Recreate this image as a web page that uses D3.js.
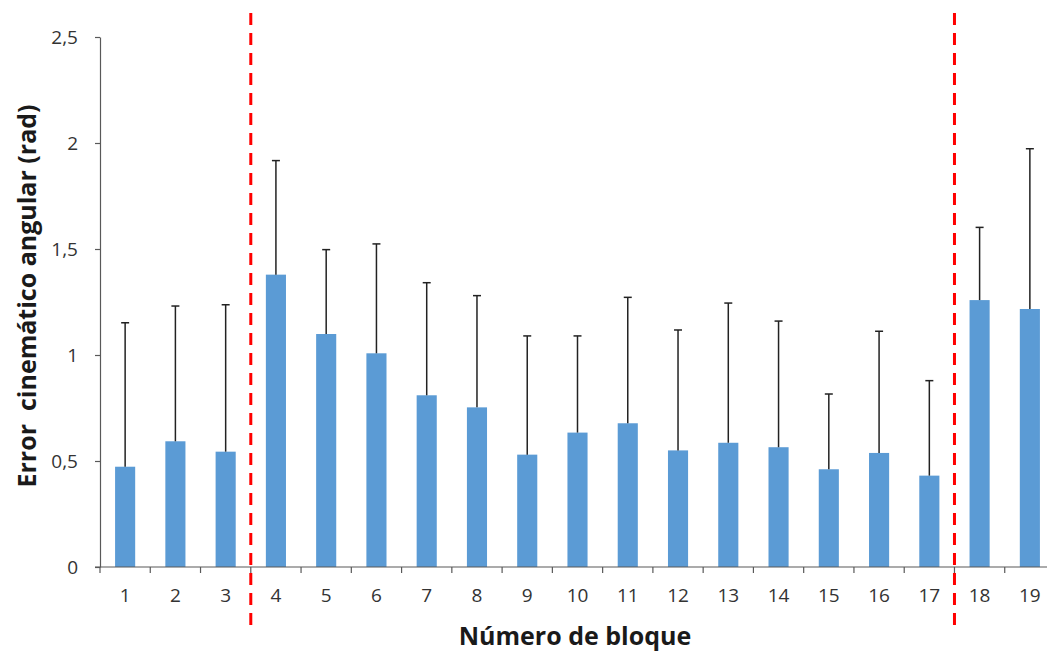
<!DOCTYPE html>
<html>
<head>
<meta charset="utf-8">
<script src="https://cdn.jsdelivr.net/npm/d3@7"></script>
<style>
  body { margin: 0; background: #fff; }
  svg { display: block; font-family: "Open Sans", "Noto Sans", sans-serif; }
</style>
</head>
<body>
<div id="chart"></div>
<script>
// bloques 1..19
const bloques = ["1","2","3","4","5","6","7","8","9","10","11","12","13","14","15","16","17","18","19"];
const medias = [0.473, 0.593, 0.544, 1.379, 1.099, 1.008, 0.810, 0.753, 0.530, 0.634, 0.678, 0.550, 0.586, 0.565, 0.461, 0.538, 0.431, 1.259, 1.217];
const topesError = [1.152, 1.231, 1.237, 1.917, 1.497, 1.524, 1.341, 1.280, 1.090, 1.090, 1.272, 1.118, 1.245, 1.160, 0.816, 1.112, 0.879, 1.602, 1.973];
const yTicks = [0, 0.5, 1, 1.5, 2, 2.5];
const separadores = ["3", "17"]; // linea roja despues de estos bloques

const W = 1047, H = 652;
const margin = { top: 37, left: 100, bottom: 85 };
const plotBottom = H - margin.bottom;

const svg = d3.select("#chart").append("svg")
  .attr("width", W)
  .attr("height", H);

const x = d3.scaleBand()
  .domain(bloques)
  .range([margin.left, 1055])
  .paddingInner(0.6)
  .paddingOuter(0.3);

const y = d3.scaleLinear()
  .domain([0, 2.5])
  .range([plotBottom, margin.top]);

const es = d3.formatLocale({ decimal: ",", thousands: ".", grouping: [3], currency: ["", ""] });
const fmt = es.format(".1~f");

const axisColor = "#595959";

// eje Y
const gy = svg.append("g")
  .attr("transform", `translate(${margin.left},0)`)
  .call(d3.axisLeft(y).tickValues(yTicks).tickFormat(fmt).tickSize(5).tickSizeOuter(0).tickPadding(17));
gy.attr("font-size", null).attr("font-family", null);
gy.select(".domain").attr("stroke", axisColor).attr("stroke-width", 1.2);
gy.selectAll(".tick line").attr("stroke", axisColor).attr("stroke-width", 1.2);
gy.selectAll(".tick text").attr("fill", "#333").style("font-size", "19px");

// barras
svg.selectAll("rect.bar")
  .data(bloques)
  .enter()
  .append("rect")
  .attr("class", "bar")
  .attr("x", d => x(d))
  .attr("y", (d, i) => y(medias[i]))
  .attr("width", x.bandwidth())
  .attr("height", (d, i) => y(0) - y(medias[i]))
  .attr("fill", "#5B9BD5");

// barras de error (solo hacia arriba)
const eb = svg.selectAll("g.err")
  .data(bloques)
  .enter()
  .append("g")
  .attr("class", "err")
  .attr("stroke", "#222")
  .attr("stroke-width", 1.5);
eb.append("line")
  .attr("x1", d => x(d) + x.bandwidth() / 2)
  .attr("x2", d => x(d) + x.bandwidth() / 2)
  .attr("y1", (d, i) => y(medias[i]))
  .attr("y2", (d, i) => y(topesError[i]));
eb.append("line")
  .attr("x1", d => x(d) + x.bandwidth() / 2 - 4)
  .attr("x2", d => x(d) + x.bandwidth() / 2 + 4)
  .attr("y1", (d, i) => y(topesError[i]))
  .attr("y2", (d, i) => y(topesError[i]));

// eje X
const gx = svg.append("g")
  .attr("transform", `translate(0,${plotBottom})`)
  .call(d3.axisBottom(x).tickSize(0).tickPadding(22));
gx.attr("font-size", null).attr("font-family", null);
gx.select(".domain").remove();
gx.selectAll(".tick text").attr("fill", "#333").style("font-size", "19px");

svg.append("line")
  .attr("x1", margin.left - 5)
  .attr("x2", W)
  .attr("y1", y(0))
  .attr("y2", y(0))
  .attr("stroke", axisColor)
  .attr("stroke-width", 1.2);

const limites = bloques.map(d => x(d) + x.bandwidth() / 2 + x.step() / 2);
svg.selectAll("line.xtick")
  .data([x(bloques[0]) + x.bandwidth() / 2 - x.step() / 2].concat(limites))
  .enter()
  .append("line")
  .attr("class", "xtick")
  .attr("x1", d => d)
  .attr("x2", d => d)
  .attr("y1", y(0))
  .attr("y2", y(0) + 6)
  .attr("stroke", axisColor)
  .attr("stroke-width", 1.2);

// lineas rojas discontinuas
svg.selectAll("line.sep")
  .data(separadores)
  .enter()
  .append("line")
  .attr("class", "sep")
  .attr("x1", d => x(d) + x.bandwidth() / 2 + x.step() / 2)
  .attr("x2", d => x(d) + x.bandwidth() / 2 + x.step() / 2)
  .attr("y1", 13)
  .attr("y2", 633)
  .attr("stroke", "#FF0000")
  .attr("stroke-width", 3)
  .attr("stroke-dasharray", "12,8");

// titulos
svg.append("text")
  .attr("x", 575)
  .attr("y", 645)
  .attr("text-anchor", "middle")
  .style("font-size", "25px")
  .style("font-weight", "bold")
  .attr("fill", "#1a1a1a")
  .text("Número de bloque");

svg.append("text")
  .attr("transform", `translate(36,296) rotate(-90)`)
  .attr("text-anchor", "middle")
  .style("font-size", "25px")
  .style("font-weight", "bold")
  .style("white-space", "pre")
  .attr("xml:space", "preserve")
  .attr("fill", "#1a1a1a")
  .text("Error  cinemático angular (rad)");
</script>
</body>
</html>
